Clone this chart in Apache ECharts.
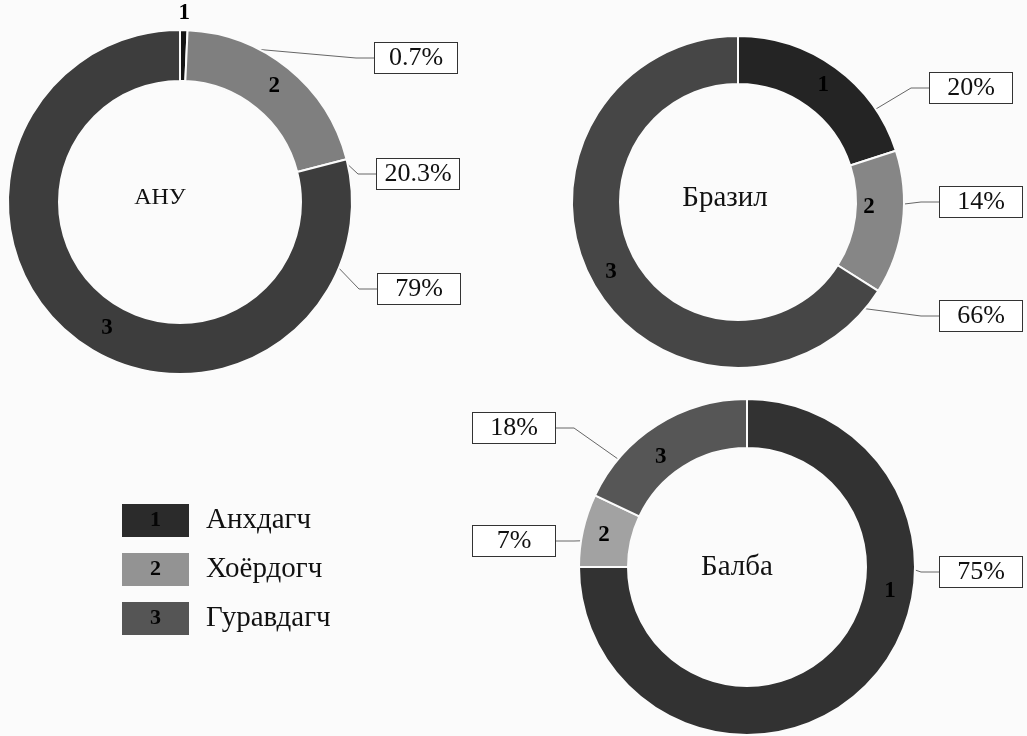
<!DOCTYPE html>
<html>
<head>
<meta charset="utf-8">
<script src="https://cdn.jsdelivr.net/npm/echarts@6/dist/echarts.min.js"></script>
<style>
  html, body { margin: 0; padding: 0; background: #fbfbfb; }
  #chart { width: 1027px; height: 736px; }
</style>
</head>
<body>
<div id="chart"></div>
<script>
// Category names and the marks printed on the ring segments
const categories = ['Анхдагч', 'Хоёрдогч', 'Гуравдагч'];
const segmentMarks = ['1', '2', '3'];

// Shares in percent, one list per country
const countries = ['АНУ', 'Бразил', 'Балба'];
const usaShares = [0.7, 20.3, 79];
const brazilShares = [20, 14, 66];
const nepalShares = [75, 7, 18];

const SERIF = '"Liberation Serif", "Times New Roman", Times, serif';
const BG = '#fbfbfb';
const BOX_HALF = 42;

// Ring geometry, colours and where the value boxes sit
const rings = [
  {
    shares: usaShares, center: [180, 202], radius: [121, 172], titleAt: [160, 198], titleSize: 24,
    colors: ['#141414', '#7f7f7f', '#3d3d3d'],
    boxes: [[416, 58], [418, 174], [419, 289]],
    anchors: [[1.4, 0.75], [70, 0.75], [111, 0.8]],
    markAt: [[1.3, 189], null, [210, 146]]
  },
  {
    shares: brazilShares, center: [738, 202], radius: [118, 166], titleAt: [725, 198], titleSize: 29,
    colors: ['#242424', '#868686', '#464646'],
    boxes: [[971, 88], [981, 202], [981, 316]],
    anchors: [[56, 1.0], [92, 0.5], [130, 1.0]],
    markAt: [null, [92, 131], null]
  },
  {
    shares: nepalShares, center: [747, 567], radius: [119, 168], titleAt: [737, 567], titleSize: 29,
    colors: ['#323232', '#a2a2a2', '#565656'],
    boxes: [[981, 572], [514, 541], [514, 428]],
    anchors: [[91, 1.0], [280, 0.7], [310, 0.96]],
    markAt: [[99.5, 145], null, [322, 140]]
  }
];
const legendColors = ['#2b2b2b', '#939393', '#555555'];

function polar(ring, angDeg, r) {
  const a = angDeg * Math.PI / 180;
  return [ring.center[0] + r * Math.sin(a), ring.center[1] - r * Math.cos(a)];
}

// Moves the segment numbers where a custom spot is given
function markLayout(ring) {
  return function (p) {
    const o = ring.markAt[p.dataIndex];
    if (!o) return {};
    const pt = polar(ring, o[0], o[1]);
    return { x: pt[0], y: pt[1], align: 'center', verticalAlign: 'middle' };
  };
}

// Places each value box and draws its leader from the ring
function boxLayout(ring) {
  return function (p) {
    const i = p.dataIndex;
    const bx = ring.boxes[i][0], by = ring.boxes[i][1];
    const an = ring.anchors[i];
    const rr = ring.radius[0] + an[1] * (ring.radius[1] - ring.radius[0]);
    const a = polar(ring, an[0], rr);
    const side = bx > a[0] ? -1 : 1;
    const ex = bx + side * BOX_HALF;
    const kx = ex + side * 18;
    return {
      x: bx, y: by, align: 'center', verticalAlign: 'middle',
      labelLinePoints: [a, [kx, by], [ex, by]]
    };
  };
}

const series = [];
rings.forEach(function (ring, k) {
  const slices = categories.map(function (name, i) {
    return { name: name, value: ring.shares[i], itemStyle: { color: ring.colors[i] } };
  });
  series.push({
    type: 'pie', name: countries[k], center: ring.center, radius: ring.radius,
    startAngle: 90, clockwise: true, avoidLabelOverlap: false, silent: true,
    itemStyle: { borderColor: BG, borderWidth: 2 },
    label: {
      show: true, position: 'inside',
      formatter: function (p) { return segmentMarks[p.dataIndex]; },
      fontFamily: SERIF, fontWeight: 'bold', fontSize: 23, color: '#000'
    },
    labelLine: { show: false },
    labelLayout: markLayout(ring),
    emphasis: { disabled: true },
    data: slices
  });
  series.push({
    type: 'pie', name: countries[k] + ' %', center: ring.center, radius: ring.radius,
    startAngle: 90, clockwise: true, avoidLabelOverlap: false, silent: true,
    itemStyle: { color: 'rgba(0,0,0,0)' },
    label: {
      show: true, position: 'outside', formatter: '{c}%',
      fontFamily: SERIF, fontSize: 26, color: '#111',
      width: 70, overflow: 'none', padding: [2, 6], backgroundColor: '#fff',
      borderColor: '#333', borderWidth: 1
    },
    labelLine: { show: true, lineStyle: { color: '#666', width: 1 } },
    labelLayout: boxLayout(ring),
    emphasis: { disabled: true },
    data: categories.map(function (name, i) { return { name: name, value: ring.shares[i] }; })
  });
});

const rich = {
  t: { fontFamily: SERIF, fontSize: 29, color: '#111', padding: [0, 0, 0, 17], verticalAlign: 'middle' }
};
legendColors.forEach(function (c, i) {
  rich['k' + i] = {
    width: 67, height: 33, align: 'center', verticalAlign: 'middle',
    backgroundColor: c, fontFamily: SERIF, fontWeight: 'bold', fontSize: 22, color: '#050505'
  };
});

const chart = echarts.init(document.getElementById('chart'), null, { renderer: 'canvas' });
chart.setOption({
  backgroundColor: BG,
  animation: false,
  title: rings.map(function (ring, k) {
    return {
      text: countries[k], left: ring.titleAt[0], top: ring.titleAt[1], padding: 0,
      textAlign: 'center', textVerticalAlign: 'middle',
      textStyle: { fontFamily: SERIF, fontWeight: 'normal', fontSize: ring.titleSize, color: '#111' }
    };
  }),
  legend: {
    orient: 'vertical', left: 112, top: 499, itemGap: 16,
    icon: 'none', itemWidth: 0, itemHeight: 33, selectedMode: false,
    data: categories,
    formatter: function (name) {
      const i = categories.indexOf(name);
      return '{k' + i + '|' + segmentMarks[i] + '}{t|' + name + '}';
    },
    textStyle: { rich: rich }
  },
  series: series
});
</script>
</body>
</html>
